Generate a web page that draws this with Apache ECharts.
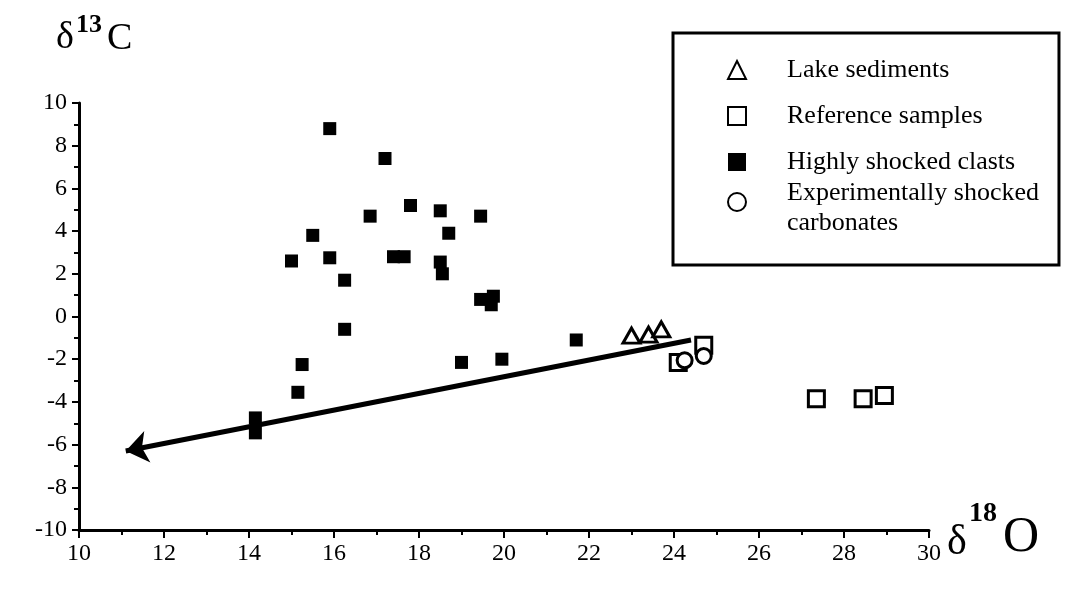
<!DOCTYPE html>
<html>
<head>
<meta charset="utf-8">
<script src="https://cdn.jsdelivr.net/npm/echarts@6/dist/echarts.min.js"></script>
<style>html,body{margin:0;padding:0;background:#fff}#c{width:1068px;height:591px}</style>
</head>
<body>
<div id="c"></div>
<script>
// δ18O (x), δ13C (y)
const lakeSediments = [[23.0, -0.9], [23.4, -0.85], [23.7, -0.6]];
const referenceSamples = [[24.1, -2.15], [24.7, -1.35], [27.35, -3.85], [28.45, -3.85], [28.95, -3.7]];
const highlyShockedClasts = [
  [15.9, 8.8], [17.2, 7.4], [17.8, 5.2], [18.5, 4.95], [16.85, 4.7], [19.45, 4.7],
  [18.7, 3.9], [15.5, 3.8], [15.0, 2.6], [15.9, 2.75], [17.4, 2.8], [17.65, 2.8],
  [18.5, 2.55], [18.55, 2.0], [16.25, 1.7], [19.45, 0.8], [19.75, 0.95], [19.7, 0.55],
  [16.25, -0.6], [15.25, -2.25], [19.0, -2.15], [19.95, -2.0], [21.7, -1.1],
  [15.15, -3.55], [14.15, -4.75], [14.15, -5.45]
];
const experimentallyShocked = [[24.25, -2.05], [24.7, -1.85]];
const trendArrow = [[24.4, -1.1], [11.1, -6.3]];
const xTicks = {min: 10, max: 30, interval: 2};
const yTicks = {min: -10, max: 10, interval: 2};
const legendNames = ['Lake sediments', 'Reference samples', 'Highly shocked clasts', 'Experimentally shocked carbonates'];

const font = 'Liberation Serif';
const chart = echarts.init(document.getElementById('c'));
const openStyle = {color: '#fff', borderColor: '#000', borderWidth: 3, opacity: 1};
const legendText = {color: '#000', fontFamily: font, fontSize: 26, lineHeight: 72, padding: [0, 0, 0, 36]};
chart.setOption({
  animation: false,
  backgroundColor: '#fff',
  grid: {left: 79, right: 139, top: 103, bottom: 61},
  xAxis: {
    type: 'value', min: xTicks.min, max: xTicks.max, interval: xTicks.interval,
    axisLine: {onZero: false, lineStyle: {color: '#000', width: 3}},
    axisTick: {show: true, inside: false, length: 8, lineStyle: {color: '#000', width: 2}},
    minorTick: {show: true, splitNumber: 2, length: 5, lineStyle: {color: '#000', width: 2}},
    splitLine: {show: false},
    axisLabel: {color: '#000', fontFamily: font, fontSize: 24, margin: 12}
  },
  yAxis: {
    type: 'value', min: yTicks.min, max: yTicks.max, interval: yTicks.interval,
    axisLine: {onZero: false, lineStyle: {color: '#000', width: 3}},
    axisTick: {show: true, inside: false, length: 7, lineStyle: {color: '#000', width: 2}},
    minorTick: {show: true, splitNumber: 2, length: 5, lineStyle: {color: '#000', width: 2}},
    splitLine: {show: false},
    axisLabel: {color: '#000', fontFamily: font, fontSize: 24, margin: 12}
  },
  legend: {
    orient: 'vertical', left: 673, top: 33,
    data: legendNames,
    padding: [1, 20, 29, 54],
    itemGap: -26, itemWidth: 18, itemHeight: 18,
    borderColor: '#000', borderWidth: 3,
    textStyle: Object.assign({}, legendText, {
      rich: {
        a: {color: '#000', fontFamily: font, fontSize: 26, lineHeight: 42},
        b: {color: '#000', fontFamily: font, fontSize: 26, lineHeight: 18}
      }
    }),
    formatter: function (name) {
      if (name === legendNames[3]) return '{a|Experimentally shocked}\n{b|carbonates}';
      return name;
    }
  },
  graphic: [
    {type: 'text', left: 56, top: 19, style: {text: 'δ', font: '38px "Liberation Serif"', fill: '#000'}},
    {type: 'text', left: 76, top: 12, style: {text: '13', font: 'bold 26px "Liberation Serif"', fill: '#000'}},
    {type: 'text', left: 107, top: 20, style: {text: 'C', font: '38px "Liberation Serif"', fill: '#000'}},
    {type: 'text', left: 947, top: 522, style: {text: 'δ', font: '42px "Liberation Serif"', fill: '#000'}},
    {type: 'text', left: 969, top: 500, style: {text: '18', font: 'bold 28px "Liberation Serif"', fill: '#000'}},
    {type: 'text', left: 1003, top: 513, style: {text: 'O', font: '50px "Liberation Serif"', fill: '#000'}}
  ],
  series: [
    {
      name: 'trend', type: 'line', data: [], silent: true,
      markLine: {
        silent: true, animation: false,
        symbol: ['none', 'arrow'], symbolSize: [24, 22],
        label: {show: false},
        lineStyle: {color: '#000', width: 5, type: 'solid'},
        emphasis: {disabled: true},
        data: [[{coord: trendArrow[0]}, {coord: trendArrow[1]}]]
      }
    },
    {name: legendNames[2], type: 'scatter', symbol: 'rect', symbolSize: 13, data: highlyShockedClasts,
     itemStyle: {color: '#000', opacity: 1}, z: 3},
    {name: legendNames[0], type: 'scatter', symbol: 'triangle', symbolSize: [17, 15], data: lakeSediments,
     itemStyle: openStyle, z: 4},
    {name: legendNames[1], type: 'scatter', symbol: 'rect', symbolSize: 16, data: referenceSamples,
     itemStyle: openStyle, z: 4},
    {name: legendNames[3], type: 'scatter', symbol: 'circle', symbolSize: 15, data: experimentallyShocked,
     itemStyle: openStyle, z: 5}
  ]
});
</script>
</body>
</html>
